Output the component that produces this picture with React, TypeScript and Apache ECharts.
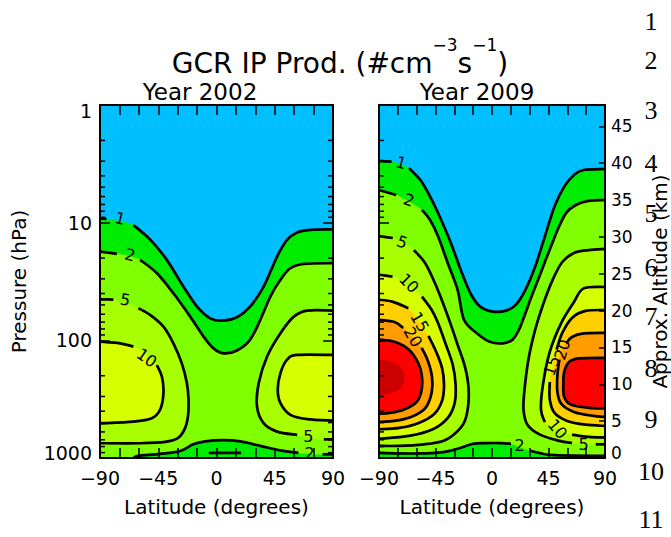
import React, { useEffect, useRef } from "react";
import * as echarts from "echarts";

type P = [number, number] | null;

// ---------------- data: latitude (deg), pressure (hPa) ----------------
const LEVELS = [1, 2, 5, 10, 15, 20, 25, 30];
const LEVEL_COLORS = ["#00EC00", "#80FF00", "#A8FF00", "#D6FF00", "#FFD000", "#FF9C00", "#FF0000", "#CC0000"];
const BELOW_COLOR = "#00BFFF";
const P_MINOR = [2, 3, 4, 5, 6, 7, 8, 9, 20, 30, 40, 50, 60, 70, 80, 90, 200, 300, 400, 500, 600, 700, 800, 900];
const LINE_NUMBERS = ["1", "2", "3", "4", "5", "6", "7", "8", "9", "10", "11"];

// ---- Year 2002 contours ----
const Y02_C1: P[] = [[-90, 9.2], [-85, 9.3], null, [-64, 10.5], [-51, 14], [-38.4, 20.7], [-25.5, 35], [-15, 51.7], [-4.8, 65], [5.5, 68], [15.8, 63.6], [26, 51.7], [36.4, 35], [46.8, 19.4], [54.5, 14], [62.3, 12.1], [72.6, 11.5], [90, 11.4]];
const Y02_C2_TOP: P[] = [[-90, 17.6], [-77, 18.4], null, [-59, 20.7], [-46, 26.9], [-33.3, 39.8], [-20.3, 62.9], [-10, 93], [-2.3, 117], [5.5, 129], [15.8, 122], [26, 98.6], [33.9, 66.8], [41.6, 42.5], [49.4, 30.6], [57, 24.4], [67.4, 22.4], [90, 22.1]];
const Y02_C2_BOT: P[] = [[-64, 1000], [-60.6, 960], [-43.5, 923], [-28, 871], [-18, 765], [-8.7, 723], [5.2, 706], [18.4, 723], [33.9, 789], [49.4, 862], [63.3, 905], null, [81.9, 930], [90, 930]];
const Y02_C5_L: P[] = [[-90, 44.8], [-79.7, 45], null, [-60.3, 53.4], [-51.3, 60.8], [-41, 76.5], [-33.3, 106], [-26.8, 157], [-22.9, 231], [-21.6, 318], [-21.9, 430], [-24.2, 555], [-29.6, 675], [-39.7, 730], [-59, 749], [-90, 749]];
const Y02_C5_R: P[] = [[90, 55.9], [70, 55.9], [59.7, 62.9], [49.4, 87], [39.1, 137], [32.6, 231], [31.3, 366], [36.4, 506], [46.8, 597], [62.3, 637], null, [82.9, 694], [90, 694]];
const Y02_C10_L: P[] = [[-90, 102.6], [-74.5, 106], [-64.2, 113], null, [-46.1, 162], [-42.2, 203], [-41, 281], [-43.5, 387], [-50, 459], [-64.2, 491], [-90, 508]];
const Y02_C10_R: P[] = [[90, 133], [62.3, 133], [54.5, 146], [49.4, 190], [47.3, 262], [49.4, 342], [57.1, 430], [70, 468], [90, 481]];
const Y02_C1_BOT: P[] = [[-6, 905], [19, 905]];
const Y02_LABELS: [number, number, string, number][] = [
  [-74.5, 9.2, "1", -15], [-66.8, 18.8, "2", -15], [-70.6, 45.2, "5", -10], [-53.9, 141, "10", -35], [71, 658, "5", 0], [72, 915, "2", 0],
];

// ---- Year 2009 contours ----
const Y09_C1: P[] = [[-90, 2.99], [-80, 3.03], null, [-66, 3.45], [-57, 4.34], [-49.3, 6.0], [-41.6, 8.9], [-32.6, 15], [-24.9, 25.2], [-17.2, 39.8], [-9.4, 51.7], [0.9, 57], [11.2, 55.9], [18.9, 50], [26.6, 37.2], [34.4, 23.6], [42.1, 13.1], [49.8, 7.3], [57.5, 4.94], [65.3, 3.93], [73, 3.57], [90, 3.5]];
const Y09_C2_TOP: P[] = [[-90, 5.28], [-76.3, 5.82], null, [-55.8, 7.79], [-49.3, 9.49], [-42.9, 13.1], [-35.2, 22.1], [-27.4, 37.2], [-22.3, 66.8], [-12, 87], [-1.7, 103], [8.6, 106], [16.4, 98.6], [21.5, 81.2], [26.6, 58.9], [30.5, 45.2], [36.7, 30.6], [42.1, 21.6], [47.5, 15.4], [52.9, 11.1], [59.1, 8.25], [66.8, 7.07], [76.9, 6.53], [90, 6.42]];
const Y09_C2_BOT: P[] = [[-90, 905], [-58.3, 915], [-39, 890], [-27.4, 835], [-15.8, 760], [-4.3, 747], [7.3, 747], [15.1, 757], null, [29.7, 863], [38.2, 910], [49.8, 945], [90, 960]];
const Y09_C5_L: P[] = [[-90, 13], [-79, 13.5], null, [-62.2, 17.1], [-53.2, 22.1], [-45.4, 32.7], [-39, 48.4], [-32.8, 73.6], [-27.4, 109], [-22, 161], [-18.9, 238], [-18.9, 352], [-22, 494], [-29, 612], [-39, 716], [-54.5, 765], [-73.8, 789], [-90, 789]];
const Y09_C5_R: P[] = [[90, 16.7], [76.9, 17.1], [65.3, 18.1], [56, 21.6], [48.3, 30.6], [40.6, 49.8], [34.4, 81.2], [29, 146], [25.9, 262], [25.1, 387], [28.2, 521], [38.2, 633], [53.7, 716], [63.7, 745], null, [82.6, 765], [90, 765]];
const Y09_C10_L: P[] = [[-90, 27.7], [-79.2, 28.7], null, [-55.8, 42.5], [-48.1, 55], [-42.9, 71.6], [-36.7, 109], [-31.3, 161], [-29, 238], [-29.7, 340], [-35.2, 456], [-46.7, 566], [-66.1, 649], [-90, 687]];
const Y09_C10_R: P[] = [[90, 35.2], [73, 36.2], [65.3, 47.2], [55.2, 71.1], [46, 125.5], [40.6, 238], [39, 387], [42.1, 496], null, [63.7, 633], [76.9, 662], [90, 670]];
const Y09_C15_L: P[] = [[-90, 45.2], [-79.4, 46.9], [-66.6, 53.4], null, [-50.6, 91.8], [-44.4, 125.5], [-39.8, 171.6], [-38.2, 238], [-39.8, 327], [-46, 422], [-58.3, 503], [-73.8, 555], [-90, 570]];
const Y09_C15_R: P[] = [[90, 55.2], [74.5, 56.2], [63.7, 64.5], [56, 86.5], [51.4, 120], null, [46, 226], [46, 318], [49.8, 414], [59.9, 484], [74.5, 521], [90, 534]];
const Y09_C20_L: P[] = [[-90, 66.8], [-77.6, 69.8], [-70.7, 78.5], null, [-56, 116], [-51.4, 146], [-48.3, 189], [-47.5, 244], [-49.1, 308], [-53.7, 383], [-64.5, 448], [-77.6, 484], [-90, 494]];
const Y09_C20_R: P[] = [[90, 86.5], [73, 87.4], [63.7, 93.6], [59.1, 106], null, [53.7, 146], [52.1, 196], [52.1, 274], [55.2, 347], [65.3, 406], [80.7, 439], [90, 448]];
const Y09_C25_L: P[] = [[-90, 98.6], [-77.6, 103], [-66.1, 120], [-59.1, 153], [-56, 196], [-56, 262], [-59.9, 334], [-69.9, 387], [-81.5, 414], [-90, 420]];
const Y09_C25_R: P[] = [[90, 141], [69.1, 142.5], [61.4, 153], [57.5, 185.5], [56.8, 238], [57.5, 302.6], [62.9, 352], [76.9, 375], [90, 379]];
const Y09_C30_L: P[] = [[-90, 146], [-80, 153], [-73, 171], [-69.9, 205], [-72.2, 249], [-80, 280], [-90, 290]];
const Y09_LABELS: [number, number, string, number][] = [
  [-72.5, 3.1, "1", -15], [-66.1, 6.42, "2", -20], [-71.5, 14.6, "5", -20], [-66.1, 32.7, "10", -45],
  [-57.6, 69.8, "15", -60], [-63, 93.6, "20", -60], [47.5, 165, "15", 72], [56, 120, "20", 72],
  [52.1, 566, "10", -50], [73, 765, "5", 0], [22, 790, "2", 0],
];

// ---------------- helpers ----------------
interface Part { pts: P[]; smooth: boolean }
interface Region { level: number; parts: Part[] }
const S = (pts: P[]): Part => ({ pts, smooth: true });
const SR = (pts: P[]): Part => ({ pts: [...pts].reverse(), smooth: true });
const E = (...pts: [number, number][]): Part => ({ pts, smooth: false });
const BL: [number, number] = [-90, 1000];
const BR: [number, number] = [90, 1000];

const REGIONS_2002: Region[] = [
  { level: 1, parts: [S(Y02_C1), E(BR, BL)] },
  { level: 2, parts: [S(Y02_C2_TOP), SR(Y02_C2_BOT), E(BL)] },
  { level: 5, parts: [S(Y02_C5_L)] },
  { level: 5, parts: [S(Y02_C5_R)] },
  { level: 10, parts: [S(Y02_C10_L)] },
  { level: 10, parts: [S(Y02_C10_R)] },
];
const LINES_2002: P[][] = [Y02_C1, Y02_C2_TOP, Y02_C2_BOT, Y02_C5_L, Y02_C5_R, Y02_C10_L, Y02_C10_R, Y02_C1_BOT];

const REGIONS_2009: Region[] = [
  { level: 1, parts: [S(Y09_C1), E(BR, BL)] },
  { level: 2, parts: [S(Y09_C2_TOP), SR(Y09_C2_BOT)] },
  { level: 5, parts: [S(Y09_C5_L)] },
  { level: 5, parts: [S(Y09_C5_R)] },
  { level: 10, parts: [S(Y09_C10_L)] },
  { level: 10, parts: [S(Y09_C10_R)] },
  { level: 15, parts: [S(Y09_C15_L)] },
  { level: 15, parts: [S(Y09_C15_R)] },
  { level: 20, parts: [S(Y09_C20_L)] },
  { level: 20, parts: [S(Y09_C20_R)] },
  { level: 25, parts: [S(Y09_C25_L)] },
  { level: 25, parts: [S(Y09_C25_R)] },
  { level: 30, parts: [S(Y09_C30_L)] },
];
const LINES_2009: P[][] = [Y09_C1, Y09_C2_TOP, Y09_C2_BOT, Y09_C5_L, Y09_C5_R, Y09_C10_L, Y09_C10_R, Y09_C15_L, Y09_C15_R, Y09_C20_L, Y09_C20_R, Y09_C25_L, Y09_C25_R];

const FONT = "DejaVu Sans";
const levelColor = (l: number) => LEVEL_COLORS[LEVELS.indexOf(l)];

function curve(px: number[][], move: boolean): string {
  const n = px.length;
  if (!n) return "";
  let d = (move ? "M" : "L") + px[0][0].toFixed(2) + " " + px[0][1].toFixed(2);
  for (let i = 0; i < n - 1; i++) {
    const p0 = px[Math.max(i - 1, 0)], p1 = px[i], p2 = px[i + 1], p3 = px[Math.min(i + 2, n - 1)];
    const c1x = p1[0] + (p2[0] - p0[0]) / 6, c1y = p1[1] + (p2[1] - p0[1]) / 6;
    const c2x = p2[0] - (p3[0] - p1[0]) / 6, c2y = p2[1] - (p3[1] - p1[1]) / 6;
    d += "C" + [c1x, c1y, c2x, c2y, p2[0], p2[1]].map((v) => v.toFixed(2)).join(" ");
  }
  return d;
}
const splitSegs = (line: P[]) => {
  const segs: [number, number][][] = [];
  let cur: [number, number][] = [];
  line.forEach((q) => {
    if (q) cur.push(q);
    else { if (cur.length) segs.push(cur); cur = []; }
  });
  if (cur.length) segs.push(cur);
  return segs;
};
const firstPt = (arr: P[]) => arr.find((q) => q) as [number, number];

function fillSeries(regions: Region[], ai: number) {
  return {
    type: "custom", xAxisIndex: ai, yAxisIndex: ai, clip: true, silent: true, z: 2,
    data: regions.map((r) => firstPt(r.parts[0].pts)),
    renderItem: (params: any, api: any) => {
      const r = regions[params.dataIndex];
      let d = "";
      let first = true;
      r.parts.forEach((part) => {
        const px = part.pts.filter((q) => q).map((q) => api.coord(q));
        if (part.smooth) d += curve(px, first);
        else px.forEach((q: number[], k: number) => { d += (first && k === 0 ? "M" : "L") + q[0].toFixed(2) + " " + q[1].toFixed(2); });
        first = false;
      });
      d += "Z";
      const c = levelColor(r.level);
      return { type: "path", shape: { pathData: d }, style: { fill: c, stroke: c, lineWidth: 0.6 } };
    },
  };
}
function lineSeries(lines: P[][], ai: number) {
  return {
    type: "custom", xAxisIndex: ai, yAxisIndex: ai, clip: true, silent: true, z: 3,
    data: lines.map((l) => firstPt(l)),
    renderItem: (params: any, api: any) => {
      const segs = splitSegs(lines[params.dataIndex]);
      return {
        type: "group",
        children: segs.map((seg) => ({
          type: "path",
          shape: { pathData: curve(seg.map((q) => api.coord(q)), true) },
          style: { fill: "none", stroke: "#000", lineWidth: 2.7, lineJoin: "round" },
        })),
      };
    },
  };
}
function labelSeries(labels: [number, number, string, number][], ai: number) {
  return {
    type: "custom", xAxisIndex: ai, yAxisIndex: ai, clip: false, silent: true, z: 4,
    data: labels.map((l) => [l[0], l[1]]),
    renderItem: (params: any, api: any) => {
      const l = labels[params.dataIndex];
      const pt = api.coord([l[0], l[1]]);
      return {
        type: "text", x: pt[0], y: pt[1], rotation: (l[3] * Math.PI) / 180,
        style: { text: l[2], fill: "#000", font: `16px "${FONT}"`, align: "center", verticalAlign: "middle", textAlign: "center", textVerticalAlign: "middle" },
      };
    },
  };
}
function minorTickSeries(sides: number[], ai: number) {
  const data: [number, number][] = [];
  sides.forEach((s) => P_MINOR.forEach((v) => data.push([s, v])));
  return {
    type: "custom", xAxisIndex: ai, yAxisIndex: ai, clip: false, silent: true, z: 5,
    data,
    renderItem: (params: any, api: any) => {
      const v = data[params.dataIndex];
      const pt = api.coord(v);
      const dir = v[0] < 0 ? 1 : -1;
      return { type: "line", shape: { x1: pt[0], y1: pt[1], x2: pt[0] + dir * 5, y2: pt[1] }, style: { stroke: "#000", lineWidth: 1.5 } };
    },
  };
}

const axisLine = { show: true, onZero: false, lineStyle: { color: "#000", width: 2 } };
const tickStyle = { color: "#000", width: 1.5 };
const latFmt = (v: number) => (Math.round(v) % 45 === 0 ? (v < 0 ? "\u2212" + Math.abs(v) : String(v)) : "");
const edgeRich = (size: number) => ({
  t: { fontSize: size, fontFamily: FONT, color: "#000", padding: [12, 0, 0, 0] },
  b: { fontSize: size, fontFamily: FONT, color: "#000", padding: [0, 0, 10, 0] },
});

function xAxes(grid: number) {
  return [
    {
      gridIndex: grid, type: "value", min: -90, max: 90, interval: 15, position: "bottom", z: 10,
      axisLine, axisTick: { show: true, inside: true, length: 10, lineStyle: tickStyle },
      axisLabel: { formatter: latFmt, fontSize: 19, color: "#000", margin: 10, fontFamily: FONT },
      splitLine: { show: false },
      name: "Latitude (degrees)", nameLocation: "middle", nameGap: 39,
      nameTextStyle: { fontSize: 20, color: "#000", fontFamily: FONT },
    },
    {
      gridIndex: grid, type: "value", min: -90, max: 90, interval: 15, position: "top", z: 10,
      axisLine, axisTick: { show: true, inside: true, length: 10, lineStyle: tickStyle },
      axisLabel: { show: false }, splitLine: { show: false },
    },
  ];
}
const logAxis = (grid: number, position: string, labels: boolean, name?: string) => ({
  gridIndex: grid, type: "log", logBase: 10, min: 1, max: 1000, inverse: true, position, z: 10,
  axisLine, axisTick: { show: true, inside: true, length: 10, lineStyle: tickStyle },
  axisLabel: {
    show: labels,
    formatter: (v: number) => {
      const s = String(Math.round(v));
      if (Math.round(v) === 1) return `{t|${s}}`;
      if (Math.round(v) === 1000) return `{b|${s}}`;
      return s;
    },
    rich: edgeRich(19),
    fontSize: 19, color: "#000", margin: 8, fontFamily: FONT,
  },
  splitLine: { show: false },
  name: name || "", nameLocation: "middle", nameGap: 71, nameRotate: 90,
  nameTextStyle: { fontSize: 20, color: "#000", fontFamily: FONT },
});

const centered = { align: "center", verticalAlign: "middle", textAlign: "center", textVerticalAlign: "middle" };

const option: any = {
  animation: false,
  backgroundColor: "#fff",
  textStyle: { fontFamily: FONT },
  grid: [
    { left: 100, top: 105, width: 233, height: 353, show: true, backgroundColor: BELOW_COLOR, borderWidth: 0 },
    { left: 379, top: 105, width: 233, height: 353, show: true, backgroundColor: BELOW_COLOR, borderWidth: 0 },
  ],
  xAxis: [...xAxes(0), ...xAxes(1)],
  yAxis: [
    logAxis(0, "left", true, "Pressure (hPa)"),
    logAxis(0, "right", false),
    logAxis(1, "left", false),
    {
      gridIndex: 1, type: "value", min: 0, max: 47.9, interval: 5, position: "right", z: 10,
      axisLine, axisTick: { show: true, inside: true, length: 6, lineStyle: tickStyle },
      axisLabel: {
        formatter: (v: number) => (Math.round(v) % 5 === 0 && v < 47 ? (v === 0 ? "{b|0}" : String(v)) : ""),
        rich: edgeRich(17),
        showMaxLabel: false, fontSize: 17, color: "#000", margin: 6, fontFamily: FONT,
      },
      splitLine: { show: false },
      name: "Approx. Altitude (km)", nameLocation: "middle", nameGap: 45, nameRotate: 90,
      nameTextStyle: { fontSize: 20, color: "#000", fontFamily: FONT },
    },
  ],
  series: [
    fillSeries(REGIONS_2002, 0), lineSeries(LINES_2002, 0), labelSeries(Y02_LABELS, 0), minorTickSeries([-90, 90], 0),
    fillSeries(REGIONS_2009, 2), lineSeries(LINES_2009, 2), labelSeries(Y09_LABELS, 2), minorTickSeries([-90], 2),
  ],
  graphic: [
    {
      type: "text", x: 340, y: 57, z: 20,
      style: {
        text: "{m|GCR IP Prod. (#cm}{s|\u22123}{m|s}{s|\u22121}{m|)}",
        rich: {
          m: { fontSize: 28, lineHeight: 41, fontFamily: FONT, fill: "#000", color: "#000", verticalAlign: "bottom" },
          s: { fontSize: 17, lineHeight: 17, fontFamily: FONT, fill: "#000", color: "#000", verticalAlign: "top" },
        },
        ...centered,
      },
    },
    { type: "text", x: 200, y: 92, z: 20, style: { text: "Year 2002", font: `23px "${FONT}"`, lineHeight: 19, fill: "#000", ...centered } },
    { type: "text", x: 477, y: 92, z: 20, style: { text: "Year 2009", font: `23px "${FONT}"`, lineHeight: 19, fill: "#000", ...centered } },
    ...LINE_NUMBERS.map((t, i) => ({
      type: "text", x: 651, y: [21, 60, 110, 163, 213, 267, 316, 368, 419, 471, 519][i], z: 20,
      style: { text: t, font: `26px "Liberation Serif"`, fill: "#000", ...centered },
    })),
  ],
};

export default function App() {
  const ref = useRef<HTMLDivElement>(null);
  useEffect(() => {
    const chart = echarts.init(ref.current as HTMLDivElement, null, { renderer: "svg" });
    chart.setOption(option);
    return () => chart.dispose();
  }, []);
  return <div ref={ref} style={{ position: "absolute", left: 0, top: 0, width: 671, height: 537, background: "#fff" }} />;
}
